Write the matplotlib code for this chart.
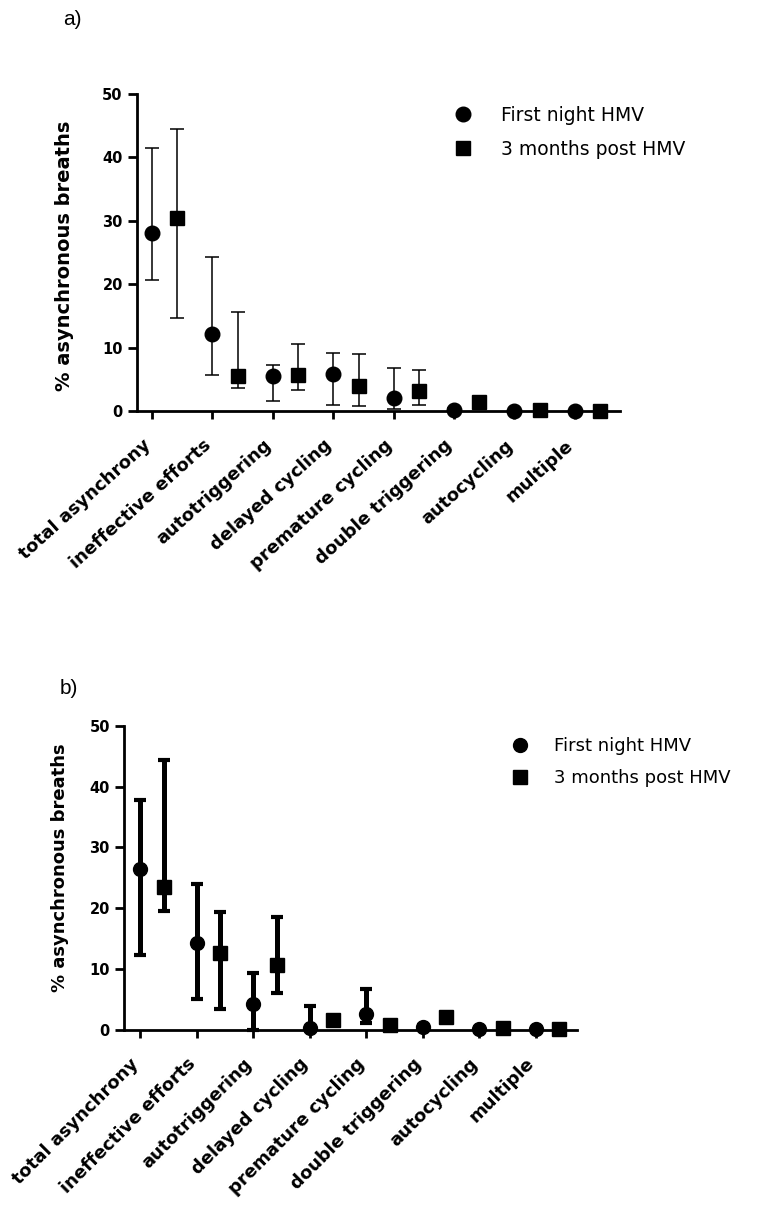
import matplotlib
matplotlib.use("Agg")
import matplotlib.pyplot as plt
import matplotlib.transforms as mtransforms

categories = ['total asynchrony', 'ineffective efforts', 'autotriggering',
              'delayed cycling', 'premature cycling', 'double triggering',
              'autocycling', 'multiple']
series_names = ['First night HMV', '3 months post HMV']
yticks = [0, 10, 20, 30, 40, 50]

# panel a: median with lower / upper error limits
a_first = [28.1, 12.2, 5.5, 5.8, 2.0, 0.2, 0.0, 0.0]
a_first_lo = [20.6, 5.6, 1.5, 1.0, 0.3, 0.0, 0.0, 0.0]
a_first_hi = [41.5, 24.3, 7.3, 9.1, 6.8, 0.4, 0.0, 0.0]
a_3m = [30.5, 5.5, 5.6, 3.9, 3.1, 1.4, 0.1, 0.0]
a_3m_lo = [14.7, 3.6, 3.3, 0.8, 1.0, 0.9, 0.0, 0.0]
a_3m_hi = [44.5, 15.6, 10.5, 9.0, 6.5, 1.9, 0.2, 0.0]

# panel b
b_first = [26.5, 14.3, 4.3, 0.3, 2.6, 0.5, 0.1, 0.1]
b_first_lo = [12.3, 5.1, 0.0, 0.0, 1.1, 0.1, 0.0, 0.0]
b_first_hi = [37.8, 24.0, 9.4, 4.0, 6.8, 0.9, 0.2, 0.1]
b_3m = [23.5, 12.6, 10.7, 1.6, 0.9, 2.1, 0.4, 0.1]
b_3m_lo = [19.5, 3.4, 6.0, 1.0, 0.4, 1.5, 0.1, 0.0]
b_3m_hi = [44.3, 19.4, 18.6, 2.2, 1.4, 2.7, 0.7, 0.2]

W, H = 766, 1207
fig = plt.figure(figsize=(W / 100, H / 100), dpi=100)

BOLD = dict(family='DejaVu Sans', weight='bold')


def panel(rect, xlim, first, flo, fhi, third, tlo, thi, elw, cap, capthick,
          msc, mss, rot, lab_off, ylab_xy, ylab_size, leg_anchor, leg_fs, leg_pad):
    ax = fig.add_axes(rect)
    n = len(categories)
    xs = list(range(n))
    off = 0.42
    x2 = [x + off for x in xs]
    e1 = ax.errorbar(xs, first,
                     yerr=[[f - l for f, l in zip(first, flo)], [h - f for f, h in zip(first, fhi)]],
                     fmt='o', color='black', ms=msc, elinewidth=elw, capsize=cap,
                     capthick=capthick, zorder=5, clip_on=False)
    e2 = ax.errorbar(x2, third,
                     yerr=[[f - l for f, l in zip(third, tlo)], [h - f for f, h in zip(third, thi)]],
                     fmt='s', color='black', ms=mss, elinewidth=elw, capsize=cap,
                     capthick=capthick, zorder=5, clip_on=False)
    for cont in (e1, e2):
        for art in cont.get_children():
            art.set_clip_on(False)
    ax.set_xlim(*xlim)
    ax.set_ylim(0, 50)
    ax.set_yticks(yticks)
    ax.set_yticklabels([str(v) for v in yticks], fontsize=10.5, **BOLD)
    ax.set_xticks(xs)
    ax.set_xticklabels(categories, rotation=rot, ha='right', va='center',
                       rotation_mode='anchor', fontsize=13, **BOLD)
    for s in ('top', 'right'):
        ax.spines[s].set_visible(False)
    for s in ('left', 'bottom'):
        ax.spines[s].set_linewidth(2.0)
    ax.tick_params(axis='y', direction='out', length=6.3, width=2.0, pad=4)
    ax.tick_params(axis='x', direction='out', length=5.8, width=2.0,
                   pad=lab_off[1] * 0.72 - 5.8)
    tr = mtransforms.ScaledTranslation(lab_off[0] / 100, 0, fig.dpi_scale_trans)
    for lbl in ax.get_xticklabels():
        lbl.set_transform(lbl.get_transform() + tr)
    ax.set_ylabel('% asynchronous breaths', fontsize=ylab_size, va='center',
                  ha='center', **BOLD)
    ax.yaxis.set_label_coords(*ylab_xy)
    ax.legend([e1[0], e2[0]], series_names, loc='upper left',
              bbox_to_anchor=(leg_anchor[0] / W, 1 - leg_anchor[1] / H),
              bbox_transform=fig.transFigure, frameon=False, borderpad=0,
              borderaxespad=0, handlelength=1.0, handletextpad=leg_pad,
              labelspacing=0.78, prop=dict(family='DejaVu Sans', size=leg_fs),
              numpoints=1)
    return ax


# panel a geometry (pixels)
a_left, a_right, a_top, a_bot = 137.1, 620.0, 94.0, 411.0
panel([a_left / W, 1 - a_bot / H, (a_right - a_left) / W, (a_bot - a_top) / H],
      (-0.247, 7.75), a_first, a_first_lo, a_first_hi, a_3m, a_3m_lo, a_3m_hi,
      elw=1.1, cap=4.7, capthick=1.1, msc=10.5, mss=9.5, rot=42,
      lab_off=(-4, 32), ylab_xy=(-0.150, 0.489), ylab_size=14,
      leg_anchor=(454, 106), leg_fs=13.5, leg_pad=1.5)

b_left, b_right, b_top, b_bot = 124.2, 577.0, 725.7, 1030.0
panel([b_left / W, 1 - b_bot / H, (b_right - b_left) / W, (b_bot - b_top) / H],
      (-0.28, 7.73), b_first, b_first_lo, b_first_hi, b_3m, b_3m_lo, b_3m_hi,
      elw=3.6, cap=4.3, capthick=3.0, msc=10, mss=9.5, rot=45,
      lab_off=(-4, 31), ylab_xy=(-0.142, 0.532), ylab_size=13,
      leg_anchor=(511, 737), leg_fs=13, leg_pad=1.4)

fig.text(63 / W, 1 - 19.5 / H, 'a)', ha='left', va='center', fontsize=15,
         family='Liberation Sans')
fig.text(60 / W, 1 - 689 / H, 'b)', ha='left', va='center', fontsize=15,
         family='Liberation Sans')

fig.savefig('out.png', dpi=100)
